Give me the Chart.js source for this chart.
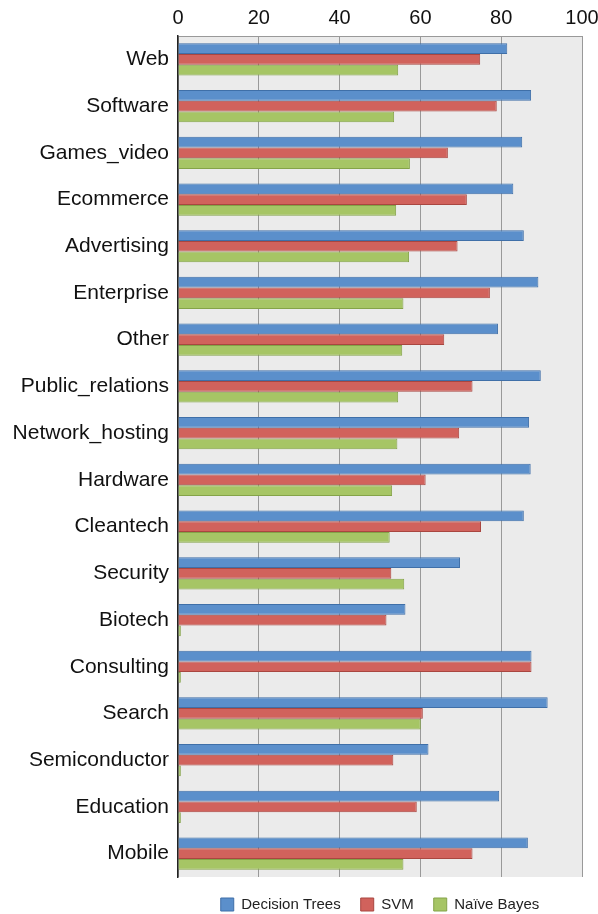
<!DOCTYPE html>
<html>
<head>
<meta charset="utf-8">
<script src="https://cdn.jsdelivr.net/npm/chart.js@4"></script>
<style>
  html, body { margin: 0; padding: 0; background: #fff; }
  #wrap { width: 598px; height: 914px; position: relative; }
</style>
</head>
<body>
<div id="wrap"><canvas id="chart"></canvas></div>
<script>
// ── data ─────────────────────────────
const categories = [
  "Web", "Software", "Games_video", "Ecommerce", "Advertising", "Enterprise",
  "Other", "Public_relations", "Network_hosting", "Hardware", "Cleantech",
  "Security", "Biotech", "Consulting", "Search", "Semiconductor", "Education", "Mobile",
];
const decisionTrees = [81.5, 87.4, 85.2, 83.0, 85.6, 89.2, 79.2, 89.8, 86.9, 87.3, 85.6, 69.8, 56.3, 87.5, 91.5, 62.0, 79.5, 86.6];
const svm = [74.8, 78.9, 66.8, 71.5, 69.2, 77.2, 65.9, 72.9, 69.6, 61.3, 75.0, 52.8, 51.6, 87.5, 60.6, 53.3, 59.1, 72.9];
const naiveBayes = [54.5, 53.5, 57.4, 54.0, 57.2, 55.8, 55.5, 54.5, 54.3, 53.0, 52.4, 56.0, 0.7, 0.7, 60.1, 0.7, 0.7, 55.8];
const xTicks = [0, 20, 40, 60, 80, 100];

const FONT = '"Liberation Sans", Helvetica, Arial, sans-serif';

// grey plot background like the original
const plotBg = {
  id: "plotBg",
  beforeDraw(chart) {
    const { ctx, chartArea: a } = chart;
    ctx.save();
    ctx.fillStyle = "#ebebeb";
    ctx.fillRect(a.left, a.top, a.right - a.left, a.bottom - a.top);
    ctx.restore();
  },
};

const series = [
  { label: "Decision Trees", data: decisionTrees, bg: "#5b8fcb", border: "#3f6fa8" },
  { label: "SVM", data: svm, bg: "#d1625c", border: "#a94640" },
  { label: "Naïve Bayes", data: naiveBayes, bg: "#a6c565", border: "#84a348" },
];

new Chart(document.getElementById("chart"), {
  type: "bar",
  data: {
    labels: categories,
    datasets: series.map((s) => ({
      label: s.label,
      data: s.data,
      backgroundColor: s.bg,
      borderColor: s.border,
      borderWidth: 1,
      barPercentage: 1,
      categoryPercentage: 0.69,
    })),
  },
  options: {
    indexAxis: "y",
    responsive: true,
    maintainAspectRatio: false,
    animation: false,
    layout: { padding: { left: 0, right: 16, top: 0, bottom: -8 } },
    plugins: {
      legend: {
        display: true,
        position: "bottom",
        fullSize: false,
        labels: {
          color: "#222",
          font: { family: FONT, size: 15 },
          boxWidth: 13,
          boxHeight: 13,
          padding: 20,
        },
      },
      tooltip: { enabled: false },
    },
    scales: {
      x: {
        position: "top",
        min: 0,
        max: 100,
        afterBuildTicks: (s) => { s.ticks = xTicks.map((v) => ({ value: v })); },
        afterFit: (s) => {
          s.height = 36;
          s.paddingLeft = 0;
          s.paddingRight = 0;
        },
        grid: { color: "#999", lineWidth: 1, drawTicks: false },
        border: { display: true, color: "#999" },
        ticks: { color: "#111", font: { family: FONT, size: 20 }, padding: 6 },
      },
      y: {
        afterFit: (s) => { s.width = 178; },
        grid: { display: false, drawTicks: false },
        border: { display: true, color: "#222", width: 1.5 },
        ticks: { color: "#111", font: { family: FONT, size: 21 }, padding: 9 },
      },
    },
  },
  plugins: [plotBg],
});
</script>
</body>
</html>
